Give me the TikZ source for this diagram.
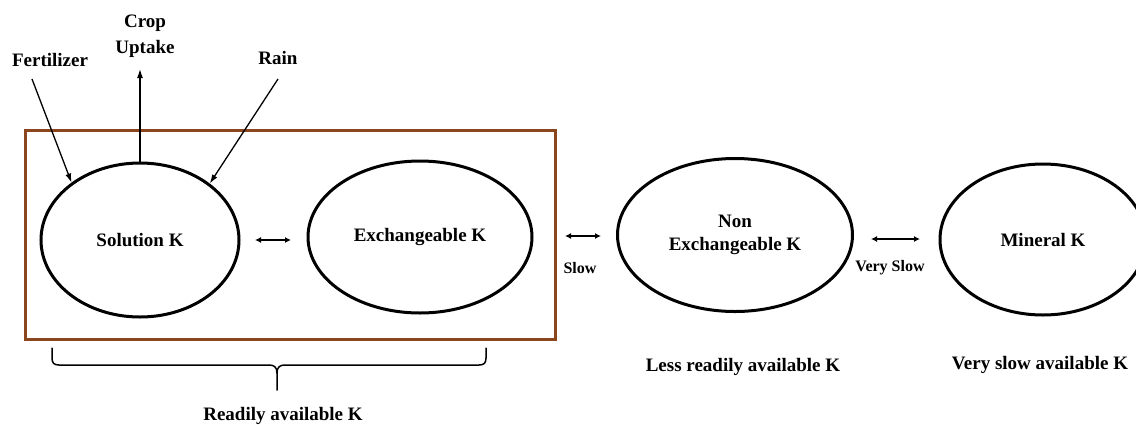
\documentclass[tikz,border=0pt]{standalone}
\usepackage{fontspec}
\setmainfont{Liberation Serif}
\usetikzlibrary{arrows.meta,shapes.geometric}
\definecolor{boxbrown}{RGB}{140,70,30}
\tikzset{
  pool/.style={ellipse,draw=black,line width=3pt,inner sep=0pt,align=center,
    font=\fontsize{19}{23}\selectfont\bfseries},
  lbl/.style={inner sep=0pt,align=center,font=\fontsize{19}{26}\selectfont\bfseries},
  small/.style={inner sep=0pt,font=\fontsize{16}{19}\selectfont\bfseries},
  flow/.style={line width=1.3pt,-{Latex[length=9pt,width=6pt]}},
  twoway/.style={line width=2pt,{Latex[length=6pt,width=6pt]}-{Latex[length=6pt,width=6pt]}},
  brace/.style={line width=1.5pt,line cap=round}
}
\begin{document}
\begin{tikzpicture}[x=1pt,y=-1pt]
\path[clip] (0,0) rectangle (1136,424);
\fill[white] (0,0) rectangle (1136,424);
% readily available box
\draw[boxbrown,line width=3pt] (25.5,130) rectangle (555,339);
% pools
\node[pool,minimum width=198pt,minimum height=154pt] (sol) at (140,240) {Solution K};
\node[pool,minimum width=224pt,minimum height=152pt] (exch) at (420,237) {Exchangeable K};
\node[pool,minimum width=235pt,minimum height=153pt] (nonex) at (735,235) {Non\\Exchangeable K};
\node[pool,minimum width=206pt,minimum height=151pt] (mineral) at (1043,239.5) {Mineral K};
% inputs / outputs
\node[lbl] (fert) at (50,60) {Fertilizer};
\node[lbl] (crop) at (145,36) {Crop\\Uptake};
\node[lbl] (rain) at (278,58) {Rain};
\coordinate (f0) at (32,79);
\coordinate (c1) at (140,69);
\coordinate (r0) at (278,79);
\draw[flow] (f0) -- (sol.140);
\draw[flow] (sol.north) -- (c1);
\draw[flow] (r0) -- (sol.39);
% exchanges
\coordinate (a1) at (255,240); \coordinate (a2) at (291,240);
\draw[twoway] (a1) -- (a2);
\coordinate (b1) at (565,236); \coordinate (b2) at (601,236);
\draw[twoway] (b1) -- (b2);
\node[small] (slow) at (580,268) {Slow};
\coordinate (d1) at (871,239); \coordinate (d2) at (920,239);
\draw[twoway] (d1) -- (d2);
\node[small] (vslow) at (890,268) {Very Slow};
% brace
\draw[brace] (52,348) -- (52,358) .. controls (52,363) and (54,365) .. (59,365) -- (269,365)
  .. controls (274,365) and (277,367) .. (277,373) -- (277,390);
\draw[brace] (486,348) -- (486,358) .. controls (486,363) and (484,365) .. (479,365) -- (285,365)
  .. controls (280,365) and (277,367) .. (277,373);
% availability labels
\node[lbl] (ready) at (283,416) {Readily available K};
\node[lbl] (less) at (743,367) {Less readily available K};
\node[lbl] (vslowk) at (1040,365) {Very slow available K};
\end{tikzpicture}
\end{document}
